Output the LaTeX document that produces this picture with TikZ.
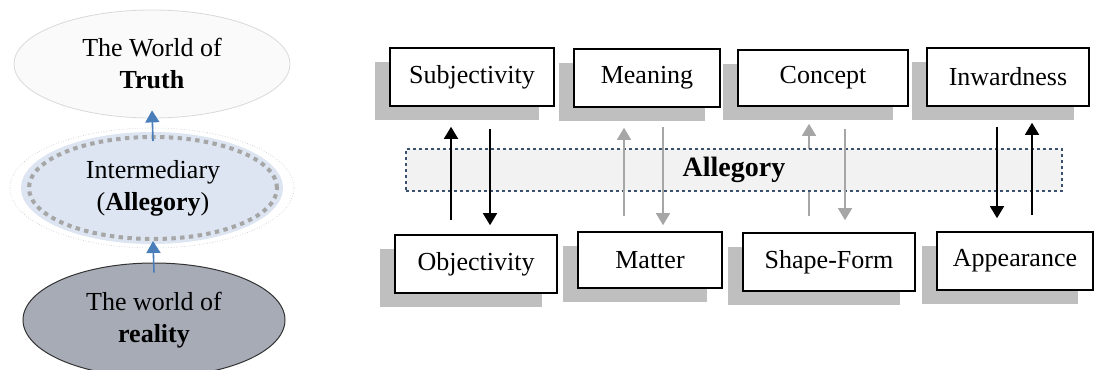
\documentclass[tikz,border=0pt]{standalone}
\usepackage{fontspec}
\setmainfont{Liberation Serif}
\usetikzlibrary{arrows.meta,shapes.geometric,shadows,calc}
\definecolor{riseblue}{RGB}{74,126,187}
\definecolor{bandline}{RGB}{58,82,110}
\definecolor{realgray}{RGB}{166,171,182}
\definecolor{midblue}{RGB}{220,229,241}

\begin{document}
\begin{tikzpicture}[x=0.5pt,y=-0.5pt,font=\fontsize{13}{16}\selectfont,
                    >={Triangle[width=7pt,length=6pt]}]
  \tikzstyle{world}=[ellipse,inner sep=0pt,align=center]
  \tikzstyle{idea}=[rectangle,draw=black,line width=0.8pt,fill=white,minimum height=29pt,
                    drop shadow={shadow xshift=-7.5pt,shadow yshift=-7pt,fill=black!25,opacity=1}]
  \tikzstyle{link}=[->,line width=0.75pt,black]
  \tikzstyle{faint}=[->,line width=0.75pt,black!35]
  \tikzstyle{rise}=[->,line width=0.8pt,riseblue]

  \useasboundingbox (0,0) rectangle (1095,369);

  % left: the three worlds
  \node[world,draw=black!15,fill=black!2,minimum width=138pt,minimum height=54pt] (truth) at (152,64)
        {The World of\\\textbf{Truth}};
  \node[world,draw=black!25,densely dotted,line width=0.3pt,fill=white,minimum width=142pt,minimum height=60pt] (mid) at (152,188) {};
  \node[world,fill=midblue,minimum width=131pt,minimum height=56pt] at (152,188) {};
  \node[world,draw=black!35,line width=2pt,dash pattern=on 2.2pt off 2.2pt,minimum width=124pt,minimum height=51pt] (dash) at (153,188)
        {Intermediary\\(\textbf{Allegory})};
  \node[world,draw=black!80,line width=0.5pt,fill=realgray,minimum width=131pt,minimum height=57pt] (real) at (154,320)
        {The world of\\\textbf{reality}};

  \draw[rise] ($(real.north)+(0,10)$) -- (dash.south);
  \draw[rise] ($(dash.north)+(0,6)$) -- ($(truth.south)+(0,-8)$);

  % right: the pairs
  \node[idea,minimum width=82pt] (subj) at (472,77) {Subjectivity};
  \node[idea,minimum width=73pt] (mean) at (647,78) {Meaning};
  \node[idea,minimum width=85pt,minimum height=28pt] (conc) at (823,78) {Concept};
  \node[idea,minimum width=81pt] (inw)  at (1008,77) {Inwardness};

  \node[idea,minimum width=81pt] (obj)   at (476,264) {Objectivity};
  \node[idea,minimum width=72pt,minimum height=28pt] (mat)   at (650,260) {Matter};
  \node[idea,minimum width=86pt] (shape) at (829,262) {Shape-Form};
  \node[idea,minimum width=78pt] (app)   at (1015,261) {Appearance};

  \draw[faint] ($(shape.north)+(-20,-16)$) -- ($(conc.south)+(-14,17)$);

  \node[draw=bandline,line width=1pt,dash pattern=on 1.5pt off 1.5pt,fill=black!5,
        minimum width=328pt,minimum height=21pt,font=\fontsize{14}{16}\selectfont\bfseries] (alleg) at (734,170) {Allegory};

  \draw[link]  ($(obj.north)+(-25,-14)$)   -- ($(subj.south)+(-21,20)$);
  \draw[link]  ($(subj.south)+(18,22)$)    -- ($(obj.north)+(14,-9)$);
  \draw[faint] ($(mat.north)+(-26,-15)$)   -- ($(mean.south)+(-23,20)$);
  \draw[faint] ($(mean.south)+(16,19)$)    -- ($(mat.north)+(13,-6)$);
  \draw[faint] ($(conc.south)+(22,22)$)    -- ($(shape.north)+(16,-12)$);
  \draw[link]  ($(inw.south)+(-11,20)$)    -- ($(app.north)+(-18,-13)$);
  \draw[link]  ($(app.north)+(17,-16)$)    -- ($(inw.south)+(24,16)$);
\end{tikzpicture}
\end{document}
